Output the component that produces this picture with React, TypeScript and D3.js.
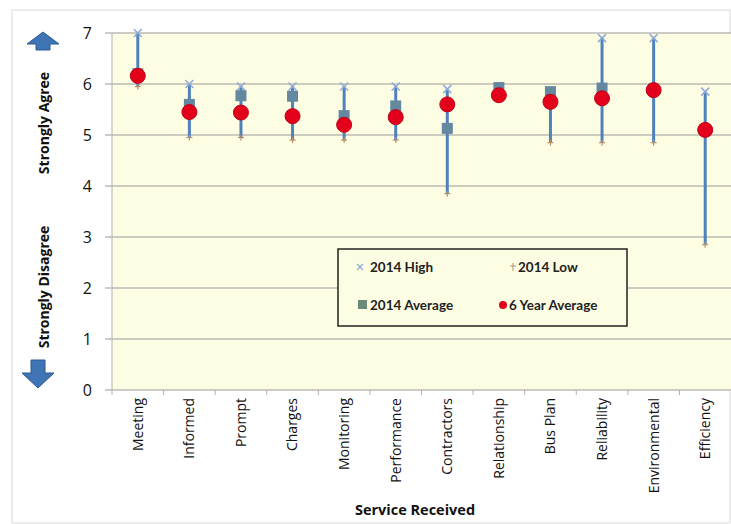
import React from 'react'
import * as d3 from 'd3'

const categories = ['Meeting', 'Informed', 'Prompt', 'Charges', 'Monitoring', 'Performance',
  'Contractors', 'Relationship', 'Bus Plan', 'Reliability', 'Environmental', 'Efficiency']

const high2014 = [7.0, 6.0, 5.95, 5.95, 5.95, 5.95, 5.9, 5.9, 5.85, 6.9, 6.9, 5.85]
const low2014 = [5.95, 4.95, 4.95, 4.9, 4.9, 4.9, 3.85, 5.9, 4.85, 4.85, 4.85, 2.85]
const avg2014 = [6.2, 5.6, 5.77, 5.76, 5.38, 5.57, 5.13, 5.93, 5.85, 5.92, 5.9, 5.1]
const avg6yr = [6.16, 5.45, 5.44, 5.37, 5.2, 5.35, 5.6, 5.78, 5.65, 5.72, 5.88, 5.1]

const yTicks = [0, 1, 2, 3, 4, 5, 6, 7]

const FONT = '"Open Sans", sans-serif'
const LEG_FONT = 'Lato, sans-serif'

export default function App() {
  const width = 731, height = 524
  const left = 112, right = 731, top = 33, bottom = 390

  const x = d3.scaleBand().domain(categories).range([left, right])
  const y = d3.scaleLinear().domain([0, 7]).range([bottom, top])
  const cx = (c: string) => x(c)! + x.bandwidth() / 2

  const lineColor = '#4f81bd'
  const highColor = '#8fa9d6'
  const lowColor = '#b8916a'
  const sqColor = '#64889f'
  const redColor = '#e3001b'

  // block arrows
  const upArrow = 'M0,-9 L16,3 L7,3 L7,9 L-7,9 L-7,3 L-16,3 Z'
  const downArrow = 'M0,14 L16,-1 L7,-1 L7,-14 L-7,-14 L-7,-1 L-16,-1 Z'

  return (
    <svg width={width} height={height} style={{position: 'absolute', left: 0, top: 0, background: '#fff'}}>
      <rect x={12} y={10} width={width - 13} height={height - 11} fill="#fff" stroke="#d9d9d9" />
      <rect x={left} y={top} width={right - left} height={bottom - top} fill="#fdfde3" />

      {yTicks.map(t => (
        <g key={t}>
          <line x1={left - 7} x2={right} y1={y(t)} y2={y(t)} stroke="#9a9a9a" strokeWidth={1.2} />
          <text x={92} y={y(t)} dy="0.35em" textAnchor="end" fontFamily={FONT} fontSize={16} fill="#111">{t}</text>
        </g>
      ))}
      <line x1={left} x2={left} y1={top} y2={bottom} stroke="#b0b0b0" />
      {categories.map((c, i) => (
        <line key={'t' + i} x1={x(c)!} x2={x(c)!} y1={bottom} y2={bottom + 5} stroke="#b0b0b0" />
      ))}

      {/* axis side labels */}
      <path d={upArrow} transform="translate(43,41)" fill="#3f74b5" stroke="#2c5a8f" strokeWidth={1} />
      <path d={downArrow} transform="translate(38,374)" fill="#3f74b5" stroke="#2c5a8f" strokeWidth={1} />
      <text transform="translate(44,123) rotate(-90)" textAnchor="middle" dy="0.35em"
        fontFamily={FONT} fontWeight="bold" fontSize={14} fill="#111">Strongly Agree</text>
      <text transform="translate(44,287) rotate(-90)" textAnchor="middle" dy="0.35em"
        fontFamily={FONT} fontWeight="bold" fontSize={14} fill="#111">Strongly Disagree</text>

      {/* high-low lines */}
      {categories.map((c, i) => (
        <line key={'hl' + i} x1={cx(c)} x2={cx(c)} y1={y(low2014[i])} y2={y(high2014[i])}
          stroke={lineColor} strokeWidth={3} />
      ))}
      {categories.map((c, i) => (
        <g key={'lo' + i} stroke={lowColor} strokeWidth={1.2}>
          <line x1={cx(c) - 3} x2={cx(c) + 3} y1={y(low2014[i])} y2={y(low2014[i])} />
          <line x1={cx(c)} x2={cx(c)} y1={y(low2014[i]) - 3} y2={y(low2014[i]) + 3} />
        </g>
      ))}
      {categories.map((c, i) => (
        <g key={'hi' + i} stroke={highColor} strokeWidth={1.5}>
          <line x1={cx(c) - 4} x2={cx(c) + 4} y1={y(high2014[i]) - 4} y2={y(high2014[i]) + 4} />
          <line x1={cx(c) - 4} x2={cx(c) + 4} y1={y(high2014[i]) + 4} y2={y(high2014[i]) - 4} />
        </g>
      ))}
      {categories.map((c, i) => (
        <rect key={'av' + i} x={cx(c) - 5.5} y={y(avg2014[i]) - 5.5} width={11} height={11} fill={sqColor} />
      ))}
      {categories.map((c, i) => (
        <circle key={'r' + i} cx={cx(c)} cy={y(avg6yr[i])} r={7.5} fill={redColor} stroke="#c00018" strokeWidth={1} />
      ))}

      {/* category labels */}
      {categories.map((c, i) => (
        <text key={'l' + i} transform={`translate(${cx(c)},398) rotate(-90)`} textAnchor="end" dy="0.35em"
          fontFamily={FONT} fontSize={14} fill="#111">{c}</text>
      ))}
      <text x={415} y={515} textAnchor="middle" fontFamily={FONT} fontWeight="bold" fontSize={14.5} fill="#111">Service Received</text>

      {/* legend */}
      <rect x={338} y={249} width={289} height={77} fill="#fdfde3" stroke="#222" strokeWidth={1.5} />
      <g stroke={highColor} strokeWidth={1.3}>
        <line x1={357} x2={363} y1={264} y2={270} />
        <line x1={357} x2={363} y1={270} y2={264} />
      </g>
      <text x={370} y={267} dy="0.35em" fontFamily={LEG_FONT} fontWeight="bold" fontSize={13.5} fill="#222">2014 High</text>
      <g stroke={lowColor} strokeWidth={1}>
        <line x1={510} x2={516} y1={266} y2={266} />
        <line x1={513} x2={513} y1={263} y2={271} />
      </g>
      <text x={518} y={267} dy="0.35em" fontFamily={LEG_FONT} fontWeight="bold" fontSize={13.5} fill="#222">2014 Low</text>
      <rect x={358} y={300} width={9} height={9} fill="#6b8a7a" />
      <text x={370} y={305} dy="0.35em" fontFamily={LEG_FONT} fontWeight="bold" fontSize={13.5} fill="#222">2014 Average</text>
      <circle cx={503} cy={305} r={4} fill={redColor} />
      <text x={509} y={305} dy="0.35em" fontFamily={LEG_FONT} fontWeight="bold" fontSize={13.5} fill="#222">6 Year Average</text>
    </svg>
  )
}
